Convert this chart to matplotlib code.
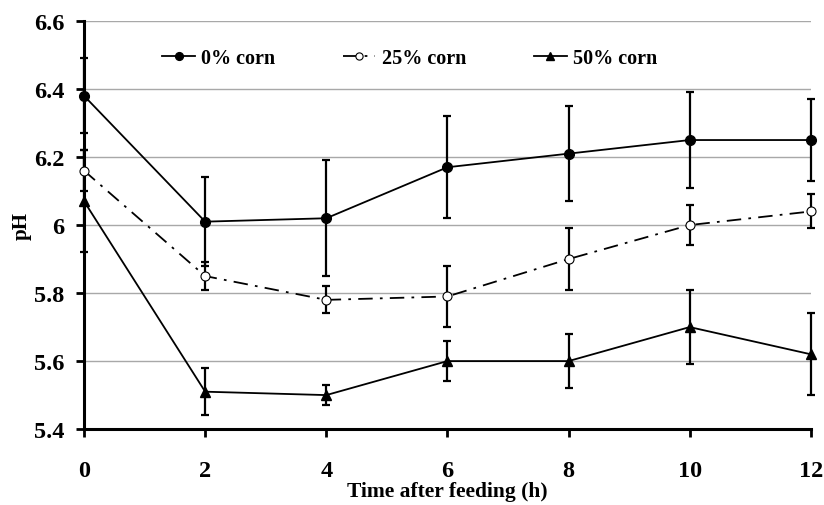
import matplotlib
matplotlib.use("Agg")
import matplotlib.pyplot as plt

hours = [0, 2, 4, 6, 8, 10, 12]
ph_0 = [6.38, 6.01, 6.02, 6.17, 6.21, 6.25, 6.25]
err_0 = [0.11, 0.13, 0.17, 0.15, 0.14, 0.14, 0.12]
ph_25 = [6.16, 5.85, 5.78, 5.79, 5.90, 6.00, 6.04]
err_25 = [0.06, 0.04, 0.04, 0.09, 0.09, 0.06, 0.05]
ph_50 = [6.07, 5.51, 5.50, 5.60, 5.60, 5.70, 5.62]
err_50 = [0.15, 0.07, 0.03, 0.06, 0.08, 0.11, 0.12]
labels = ["0% corn", "25% corn", "50% corn"]
yticks = [5.4, 5.6, 5.8, 6.0, 6.2, 6.4, 6.6]
ytick_labels = ["5.4", "5.6", "5.8", "6", "6.2", "6.4", "6.6"]
xticks = [0, 2, 4, 6, 8, 10, 12]

plt.rcParams['font.family'] = ['Liberation Serif', 'DejaVu Serif']
plt.rcParams['font.weight'] = 'bold'

fig = plt.figure(figsize=(8.24, 5.06), dpi=100)
ax = fig.add_axes([0.102, 0.150, 0.882, 0.8065])

ax.set_xlim(0, 12)
ax.set_ylim(5.4, 6.6)
ax.set_yticks(yticks)
ax.set_yticklabels(ytick_labels)
ax.set_xticks(xticks)
ax.yaxis.grid(True, color='#a8a8a8', linewidth=1.0)
ax.set_axisbelow(True)

for s in ['top', 'right']:
    ax.spines[s].set_visible(False)
for s in ['left', 'bottom']:
    ax.spines[s].set_linewidth(2.2)
ax.tick_params(axis='both', direction='out', width=2, length=6, labelsize=17.5)
ax.tick_params(axis='y', pad=8)
ax.tick_params(axis='x', pad=16)

styles = [
    dict(marker='o', linestyle='-', mfc='black', ms=7),
    dict(marker='o', linestyle=(0, (8, 4, 1.5, 4)), mfc='white', ms=6.5, mew=0.8),
    dict(marker='^', linestyle='-', mfc='black', ms=7),
]
handles = []
for y, e, lab, st in zip([ph_0, ph_25, ph_50], [err_0, err_25, err_50], labels, styles):
    ax.errorbar(hours, y, yerr=e, fmt='none', ecolor='black', elinewidth=1.6,
                capsize=3, capthick=1.6, clip_on=False, zorder=3)
    h, = ax.plot(hours, y, color='black', linewidth=1.3, marker=st['marker'],
                 linestyle=st['linestyle'], mfc=st['mfc'], mec='black',
                 ms=st['ms'], mew=st.get('mew', 1.0), clip_on=False, zorder=4, label=lab)
    handles.append(h)

leg = ax.legend(handles=handles, loc='center', bbox_to_anchor=(0.448, 0.91),
                ncol=3, frameon=False, fontsize=14.5, columnspacing=3.4,
                handlelength=1.6, handletextpad=0.3, markerscale=0.8)

ax.set_ylabel('pH', fontsize=15, fontweight='bold')
ax.yaxis.set_label_coords(-0.072, 0.5)
ax.set_xlabel('Time after feeding (h)', fontsize=15.5, fontweight='bold')
ax.xaxis.set_label_coords(0.5, -0.128)

fig.savefig('out.png', dpi=100)
